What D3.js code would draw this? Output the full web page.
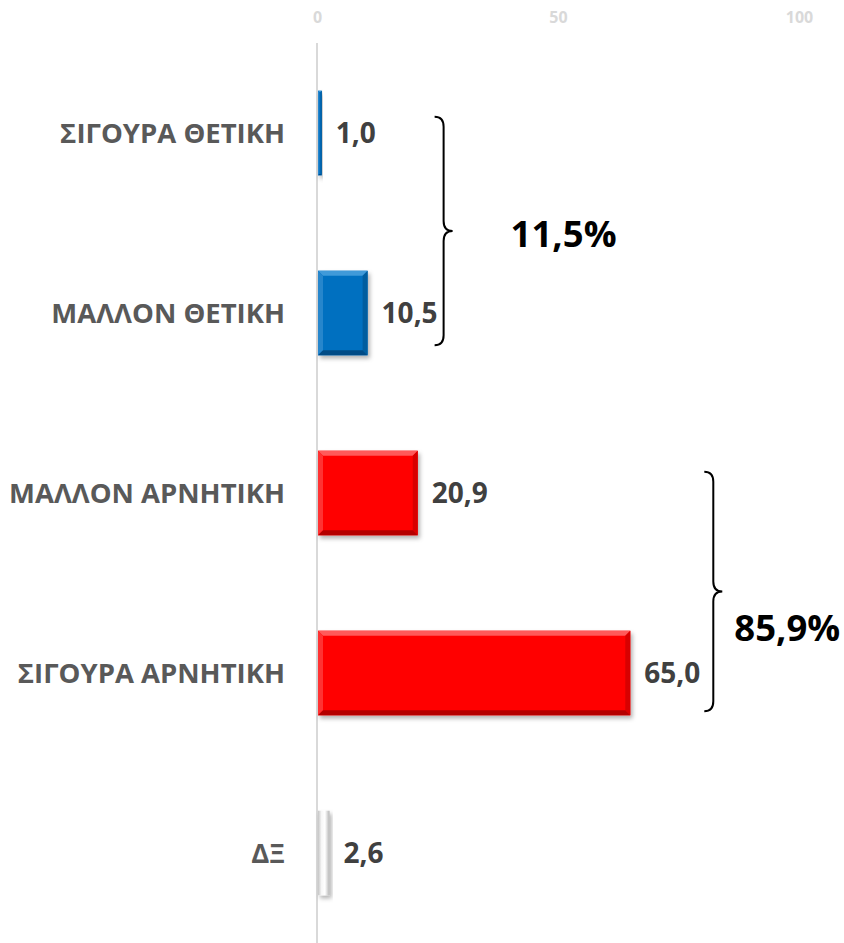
<!DOCTYPE html>
<html>
<head>
<meta charset="utf-8">
<script src="https://cdn.jsdelivr.net/npm/d3@7"></script>
<style>
  html, body { margin: 0; padding: 0; background: #fff; }
  svg { display: block; font-family: "Open Sans", sans-serif; }
</style>
</head>
<body>
<div id="grafico"></div>
<script>
// Data
const categories = ["ΣΙΓΟΥΡΑ ΘΕΤΙΚΗ", "ΜΑΛΛΟΝ ΘΕΤΙΚΗ", "ΜΑΛΛΟΝ ΑΡΝΗΤΙΚΗ", "ΣΙΓΟΥΡΑ ΑΡΝΗΤΙΚΗ", "ΔΞ"];
const values = [1.0, 10.5, 20.9, 65.0, 2.6];
const tone = ["blue", "blue", "red", "red", "grey"];
const xTicks = [0, 50, 100];
// brace groups: first and last category index, total label
const groupFrom = [0, 2];
const groupTo = [1, 3];
const groupLabels = ["11,5%", "85,9%"];

const width = 844;
const height = 943;
const marginTop = 43;
const marginLeft = 317;
const marginRight = 45;

const fmt = (v) => v.toFixed(1).replace(".", ",");

const x = d3.scaleLinear().domain([0, 100]).range([marginLeft, width - marginRight]);
const y = d3.scaleBand().domain(categories).range([marginTop, height]).paddingInner(0.53).paddingOuter(0.265);

const svg = d3.select("#grafico").append("svg")
  .attr("width", width)
  .attr("height", height)
  .attr("viewBox", [0, 0, width, height]);

const defs = svg.append("defs");
const shadow = defs.append("filter").attr("id", "shadow")
  .attr("x", "-30%").attr("y", "-30%").attr("width", "160%").attr("height", "160%");
shadow.append("feDropShadow")
  .attr("dx", 2).attr("dy", 3).attr("stdDeviation", 2)
  .attr("flood-color", "#000").attr("flood-opacity", 0.3);

const grey = defs.append("linearGradient").attr("id", "greyGrad")
  .attr("x1", 0).attr("x2", 1).attr("y1", 0).attr("y2", 0);
grey.append("stop").attr("offset", "0%").attr("stop-color", "#c4c4c4");
grey.append("stop").attr("offset", "30%").attr("stop-color", "#f6f6f6");
grey.append("stop").attr("offset", "60%").attr("stop-color", "#ffffff");
grey.append("stop").attr("offset", "100%").attr("stop-color", "#b4b4b4");

const palette = {
  blue: { base: "#0070c0", top: "#3f9ad9", left: "#2686cc", right: "#005d9f", bottom: "#004c86" },
  red: { base: "#ff0000", top: "#ff5a5a", left: "#ff3232", right: "#d80000", bottom: "#b50000" },
  grey: { base: "url(#greyGrad)" }
};

// Top axis (values)
const xAxis = svg.append("g")
  .attr("transform", `translate(0,${marginTop - 26})`)
  .call(d3.axisTop(x).tickValues(xTicks).tickSize(0).tickPadding(0));
xAxis.select(".domain").remove();
xAxis.selectAll("text")
  .attr("fill", "#d9d9d9")
  .attr("dy", "0.35em")
  .style("font-size", "16px")
  .style("font-family", "Open Sans, sans-serif")
  .style("font-weight", "bold");

// Category axis line
svg.append("line")
  .attr("x1", x(0)).attr("x2", x(0))
  .attr("y1", marginTop).attr("y2", height)
  .attr("stroke", "#d9d9d9").attr("stroke-width", 2);

// Category labels
svg.append("g")
  .selectAll("text")
  .data(categories)
  .join("text")
  .attr("x", x(0) - 32)
  .attr("y", (d) => y(d) + y.bandwidth() / 2)
  .attr("dy", "0.36em")
  .attr("text-anchor", "end")
  .attr("fill", "#595959")
  .style("font-size", "27.5px")
  .style("font-weight", "bold")
  .text((d) => d);

// Bars with bevel
const bars = svg.append("g")
  .selectAll("g")
  .data(values)
  .join("g")
  .attr("filter", "url(#shadow)");

bars.each(function (v, i) {
  const g = d3.select(this);
  const c = palette[tone[i]];
  const x0 = x(0) + 1;
  const x1 = x(v);
  const y0 = y(categories[i]);
  const y1 = y0 + y.bandwidth();
  const b = Math.min(5, (x1 - x0) / 3, y.bandwidth() / 2);
  g.append("rect")
    .attr("x", x0).attr("y", y0)
    .attr("width", x1 - x0).attr("height", y1 - y0)
    .attr("fill", c.base);
  if (tone[i] === "grey") return;
  const poly = (pts, fill) => g.append("polygon")
    .attr("points", pts.map((p) => p.join(",")).join(" "))
    .attr("fill", fill);
  poly([[x0, y0], [x1, y0], [x1 - b, y0 + b], [x0 + b, y0 + b]], c.top);
  poly([[x0, y0], [x0 + b, y0 + b], [x0 + b, y1 - b], [x0, y1]], c.left);
  poly([[x1, y0], [x1, y1], [x1 - b, y1 - b], [x1 - b, y0 + b]], c.right);
  poly([[x0, y1], [x0 + b, y1 - b], [x1 - b, y1 - b], [x1, y1]], c.bottom);
});

// Value labels
svg.append("g")
  .selectAll("text")
  .data(values)
  .join("text")
  .attr("x", (d) => x(d) + 14)
  .attr("y", (d, i) => y(categories[i]) + y.bandwidth() / 2)
  .attr("dy", "0.36em")
  .attr("fill", "#404040")
  .style("font-size", "28px")
  .style("font-weight", "bold")
  .text((d) => fmt(d));

// Curly braces with group totals
const braceOffset = [76, 83];
const braceTrim = [[26, 10], [21, 4]];
const labelGap = [58, 12];
const labelShift = [3, 36];

function bracePath(bx, top, bottom) {
  const mid = (top + bottom) / 2;
  const w = 9;
  const r = 10;
  return `M${bx - w},${top}
    C${bx - 2},${top} ${bx},${top + 4} ${bx},${top + r}
    L${bx},${mid - r}
    C${bx},${mid - 3} ${bx + 3},${mid} ${bx + w},${mid}
    C${bx + 3},${mid} ${bx},${mid + 3} ${bx},${mid + r}
    L${bx},${bottom - r}
    C${bx},${bottom - 4} ${bx - 2},${bottom} ${bx - w},${bottom}`;
}

groupLabels.forEach((label, k) => {
  const members = d3.range(groupFrom[k], groupTo[k] + 1);
  const maxV = d3.max(members, (i) => values[i]);
  const bx = x(maxV) + braceOffset[k];
  const top = y(categories[groupFrom[k]]) + braceTrim[k][0];
  const bottom = y(categories[groupTo[k]]) + y.bandwidth() - braceTrim[k][1];
  svg.append("path")
    .attr("d", bracePath(bx, top, bottom))
    .attr("fill", "none")
    .attr("stroke", "#000")
    .attr("stroke-width", 2);
  svg.append("text")
    .attr("x", bx + 9 + labelGap[k])
    .attr("y", (top + bottom) / 2 + labelShift[k])
    .attr("dy", "0.36em")
    .attr("fill", "#000")
    .style("font-size", "36.5px")
    .style("font-weight", "bold")
    .text(label);
});
</script>
</body>
</html>
